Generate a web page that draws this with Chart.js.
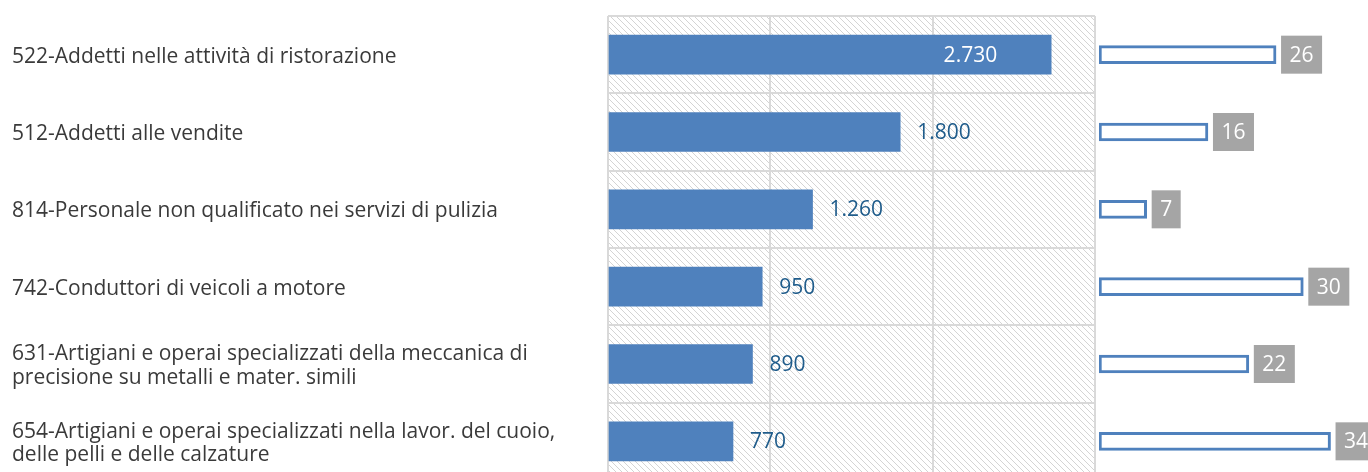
<!DOCTYPE html>
<html lang="it">
<head>
<meta charset="utf-8">
<script src="https://cdn.jsdelivr.net/npm/chart.js@4/dist/chart.umd.min.js"></script>
<style>
  html, body { margin: 0; padding: 0; background: #fff; overflow: hidden; width: 1368px; height: 472px; }
  #leftChart { position: absolute; left: 0; top: 0; }
  #rightChart { position: absolute; left: 1097px; top: 0; }
</style>
</head>
<body>
<canvas id="leftChart" width="1098" height="490"></canvas>
<canvas id="rightChart" width="271" height="490"></canvas>
<script>
const categories = [
  "522-Addetti nelle attività di ristorazione",
  "512-Addetti alle vendite",
  "814-Personale non qualificato nei servizi di pulizia",
  "742-Conduttori di veicoli a motore",
  ["631-Artigiani e operai specializzati della meccanica di", "precisione su metalli e mater. simili"],
  ["654-Artigiani e operai specializzati nella lavor. del cuoio,", "delle pelli e delle calzature"]
];
const addetti = [2730, 1800, 1260, 950, 890, 770];
const quota = [26, 16, 7, 30, 22, 34];
const xTicks = [0, 1000, 2000, 3000];

const blue = '#4F81BD';
const gridGrey = '#D9D9D9';
const valueFont = '21px "Open Sans"';

function fmt(v) {
  return String(v).replace(/\B(?=(\d{3})+(?!\d))/g, '.');
}

// hatch tile for the plot background
function hatch() {
  const c = document.createElement('canvas');
  c.width = 6; c.height = 6;
  const g = c.getContext('2d');
  g.strokeStyle = '#D4D4D4';
  g.lineWidth = 1;
  g.beginPath();
  g.moveTo(-1, -1); g.lineTo(7, 7);
  g.moveTo(-1, 5); g.lineTo(1, 7);
  g.moveTo(5, -1); g.lineTo(7, 1);
  g.stroke();
  return g.createPattern(c, 'repeat');
}

const hatchBg = {
  id: 'hatchBg',
  beforeDraw(chart) {
    const a = chart.chartArea;
    const ctx = chart.ctx;
    ctx.save();
    ctx.fillStyle = hatch();
    ctx.fillRect(a.left, a.top, a.right - a.left, a.bottom - a.top);
    ctx.restore();
  }
};

const barValues = {
  id: 'barValues',
  afterDatasetsDraw(chart) {
    const ctx = chart.ctx;
    const meta = chart.getDatasetMeta(0);
    ctx.save();
    ctx.font = valueFont;
    ctx.textBaseline = 'middle';
    meta.data.forEach((el, i) => {
      const txt = fmt(addetti[i]);
      const w = ctx.measureText(txt).width;
      if (el.x + 17 + w > chart.chartArea.right) {
        ctx.fillStyle = '#FFFFFF';
        ctx.textAlign = 'right';
        ctx.fillText(txt, el.x - 54, el.y + 1);
      } else {
        ctx.fillStyle = '#1F5C8B';
        ctx.textAlign = 'left';
        ctx.fillText(txt, el.x + 17, el.y + 1);
      }
    });
    ctx.restore();
  }
};

const boxValues = {
  id: 'boxValues',
  afterDatasetsDraw(chart) {
    const ctx = chart.ctx;
    const meta = chart.getDatasetMeta(0);
    ctx.save();
    ctx.font = valueFont;
    ctx.textBaseline = 'middle';
    ctx.textAlign = 'center';
    meta.data.forEach((el, i) => {
      const txt = String(quota[i]);
      const w = ctx.measureText(txt).width + 17;
      const x0 = el.x + 5;
      ctx.fillStyle = '#A5A5A5';
      ctx.fillRect(x0, el.y - 19, w, 38);
      ctx.fillStyle = '#FFFFFF';
      ctx.fillText(txt, x0 + w / 2, el.y + 1);
    });
    ctx.restore();
  }
};

new Chart(document.getElementById('leftChart'), {
  type: 'bar',
  data: {
    labels: categories,
    datasets: [{
      data: addetti,
      backgroundColor: blue,
      barThickness: 39
    }]
  },
  options: {
    responsive: false,
    animation: false,
    indexAxis: 'y',
    layout: { padding: { left: 12, top: 16, right: 3, bottom: 10 } },
    plugins: { legend: { display: false }, tooltip: { enabled: false } },
    scales: {
      x: {
        min: 0,
        max: 3000,
        afterBuildTicks: s => { s.ticks = xTicks.map(v => ({ value: v })); },
        ticks: { display: false },
        grid: { color: gridGrey, lineWidth: 2, drawTicks: false },
        border: { display: false }
      },
      y: {
        grid: { offset: true, color: gridGrey, lineWidth: 2, drawTicks: false },
        border: { display: false },
        ticks: {
          crossAlign: 'far',
          padding: 0,
          labelOffset: 2,
          color: '#3A3A3A',
          font: { family: '"Open Sans"', size: 21, lineHeight: 1.1 }
        },
        afterFit: s => { s.width = 596; s.paddingTop = 0; s.paddingBottom = 0; }
      }
    }
  },
  plugins: [hatchBg, barValues]
});

new Chart(document.getElementById('rightChart'), {
  type: 'bar',
  data: {
    labels: categories,
    datasets: [{
      data: quota,
      backgroundColor: '#FFFFFF',
      borderColor: blue,
      borderWidth: 3,
      borderSkipped: false,
      barThickness: 18
    }]
  },
  options: {
    responsive: false,
    animation: false,
    indexAxis: 'y',
    layout: { padding: { left: 2, top: 16, right: 0, bottom: 10 } },
    plugins: { legend: { display: false }, tooltip: { enabled: false } },
    scales: {
      x: { min: 0, max: 39.5, display: false },
      y: { display: false }
    }
  },
  plugins: [boxValues]
});
</script>
</body>
</html>
